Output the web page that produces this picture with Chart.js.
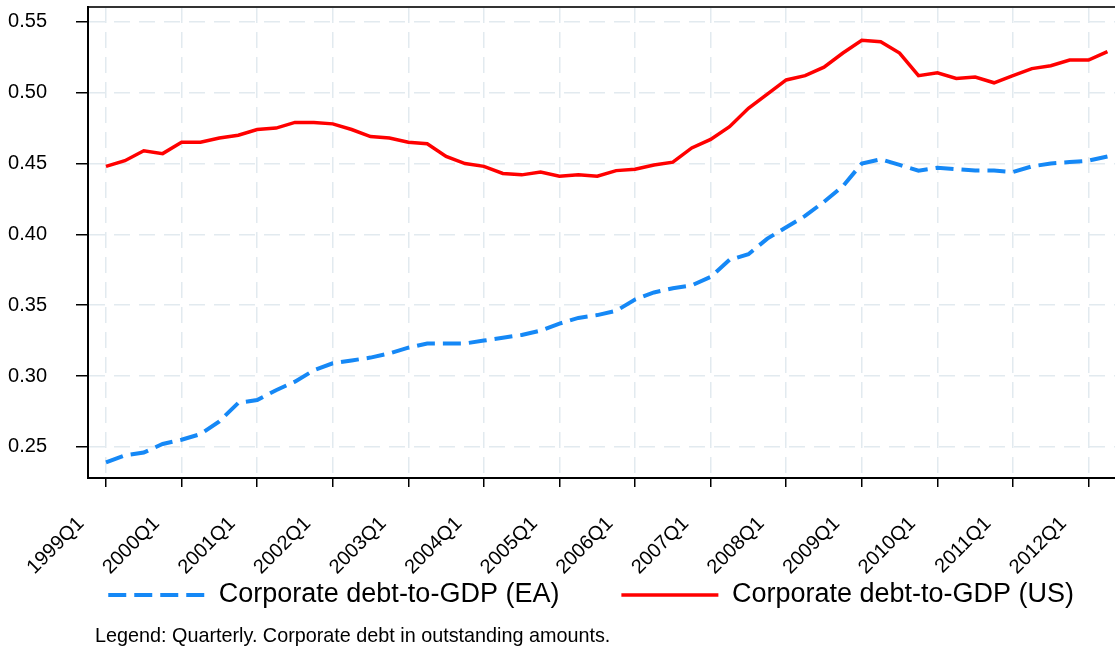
<!DOCTYPE html>
<html>
<head>
<meta charset="utf-8">
<script src="https://cdn.jsdelivr.net/npm/chart.js@4.4.1/dist/chart.umd.min.js"></script>
<style>
  body { margin: 0; background: #fff; }
  #wrap { position: relative; width: 1115px; height: 653px; overflow: hidden; }
  #note {
    position: absolute; left: 95px; top: 624px;
    font: 19.8px 'Liberation Sans', Arial, sans-serif; color: #000; white-space: nowrap;
  }
</style>
</head>
<body>
<div id="wrap">
  <canvas id="debtChart" width="1115" height="653"></canvas>
  <div id="note">Legend: Quarterly. Corporate debt in outstanding amounts.</div>
</div>
<script>
// Quarters 1999Q1 .. 2012Q2
const quarters = [
  '1999Q1', '1999Q2', '1999Q3', '1999Q4', '2000Q1', '2000Q2', '2000Q3', '2000Q4',
  '2001Q1', '2001Q2', '2001Q3', '2001Q4', '2002Q1', '2002Q2', '2002Q3', '2002Q4',
  '2003Q1', '2003Q2', '2003Q3', '2003Q4', '2004Q1', '2004Q2', '2004Q3', '2004Q4',
  '2005Q1', '2005Q2', '2005Q3', '2005Q4', '2006Q1', '2006Q2', '2006Q3', '2006Q4',
  '2007Q1', '2007Q2', '2007Q3', '2007Q4', '2008Q1', '2008Q2', '2008Q3', '2008Q4',
  '2009Q1', '2009Q2', '2009Q3', '2009Q4', '2010Q1', '2010Q2', '2010Q3', '2010Q4',
  '2011Q1', '2011Q2', '2011Q3', '2011Q4', '2012Q1', '2012Q2'
];

// Corporate debt-to-GDP, euro area
const eaDebt = [
  0.239, 0.244, 0.246, 0.252, 0.255, 0.259, 0.268, 0.281, 0.283, 0.290, 0.296, 0.304,
  0.309, 0.311, 0.313, 0.316, 0.320, 0.323, 0.323, 0.323, 0.325, 0.327, 0.329, 0.332,
  0.337, 0.341, 0.343, 0.346, 0.354, 0.359, 0.362, 0.364, 0.370, 0.382, 0.386, 0.397,
  0.405, 0.413, 0.423, 0.434, 0.450, 0.453, 0.449, 0.445, 0.447, 0.446, 0.445, 0.445,
  0.444, 0.448, 0.450, 0.451, 0.452, 0.455
];

// Corporate debt-to-GDP, United States
const usDebt = [
  0.448, 0.452, 0.459, 0.457, 0.465, 0.465, 0.468, 0.470, 0.474, 0.475, 0.479, 0.479,
  0.478, 0.474, 0.469, 0.468, 0.465, 0.464, 0.455, 0.450, 0.448, 0.443, 0.442, 0.444,
  0.441, 0.442, 0.441, 0.445, 0.446, 0.449, 0.451, 0.461, 0.467, 0.476, 0.489, 0.499,
  0.509, 0.512, 0.518, 0.528, 0.537, 0.536, 0.528, 0.512, 0.514, 0.510, 0.511, 0.507,
  0.512, 0.517, 0.519, 0.523, 0.523, 0.529
];

const xTickLabels = ['1999Q1', '2000Q1', '2001Q1', '2002Q1', '2003Q1', '2004Q1', '2005Q1',
  '2006Q1', '2007Q1', '2008Q1', '2009Q1', '2010Q1', '2011Q1', '2012Q1'];
const yTickValues = [0.25, 0.30, 0.35, 0.40, 0.45, 0.50, 0.55];

const toPoints = arr => arr.map((v, i) => ({ x: i, y: v }));

Chart.defaults.font.family = "'Liberation Sans', Arial, sans-serif";
Chart.defaults.color = '#000';

const gridColor = '#e2eaef';
const xMin = -0.952, xMax = 53.4;

// rotated x labels hang below the (short) x-axis box; don't clip them
const unclipXLabels = {
  id: 'unclipXLabels',
  afterLayout(chart) { chart.scales.x.bottom = chart.height; }
};

const ctx = document.getElementById('debtChart').getContext('2d');
new Chart(ctx, {
  type: 'line',
  data: {
    datasets: [{
      label: 'Corporate debt-to-GDP (EA)',
      data: toPoints(eaDebt),
      borderColor: '#1588f6',
      backgroundColor: '#1588f6',
      borderWidth: 4,
      borderDash: [18, 8],
      pointRadius: 0,
      tension: 0
    }, {
      label: 'Corporate debt-to-GDP (US)',
      data: toPoints(usDebt),
      borderColor: '#ff0000',
      backgroundColor: '#ff0000',
      borderWidth: 3.5,
      pointRadius: 0,
      tension: 0
    }]
  },
  plugins: [unclipXLabels],
  options: {
    responsive: false,
    animation: false,
    devicePixelRatio: 1,
    layout: { padding: { left: 0, top: 7, right: -21, bottom: 34.5 } },
    scales: {
      x: {
        type: 'linear',
        position: 'bottom',
        min: xMin,
        max: xMax,
        afterFit: s => { s.height = 41.5; s.paddingLeft = 0; s.paddingRight = 0; },
        afterBuildTicks: s => {
          s.ticks = xTickLabels.map(l => ({ value: quarters.indexOf(l) }));
        },
        ticks: {
          autoSkip: false,
          minRotation: 45,
          maxRotation: 45,
          padding: 25,
          labelOffset: -25,
          font: { size: 20 },
          callback: v => quarters[v]
        },
        grid: {
          color: gridColor,
          lineWidth: 1.5,
          tickColor: '#000',
          tickWidth: 1.5,
          tickLength: 9
        },
        border: { color: '#000', width: 2, dash: [16, 9] }
      },
      xTop: {
        type: 'linear',
        position: 'top',
        min: xMin,
        max: xMax,
        afterFit: s => { s.height = 0; s.paddingLeft = 0; s.paddingRight = 0; },
        ticks: { display: false },
        grid: { drawOnChartArea: false, drawTicks: false },
        border: { color: '#333', width: 2 }
      },
      y: {
        min: 0.228,
        max: 0.5605,
        afterFit: s => { s.width = 88; s.paddingTop = 0; s.paddingBottom = 0; },
        afterBuildTicks: s => {
          s.ticks = yTickValues.map(v => ({ value: v }));
        },
        ticks: {
          padding: 29,
          font: { size: 20 },
          callback: v => v.toFixed(2)
        },
        grid: {
          color: gridColor,
          lineWidth: 1.5,
          tickColor: '#000',
          tickWidth: 1.5,
          tickLength: 12
        },
        border: { color: '#000', width: 2, dash: [16, 9] }
      }
    },
    plugins: {
      legend: {
        position: 'bottom',
        align: 'end',
        maxHeight: 100,
        labels: {
          usePointStyle: true,
          pointStyle: 'line',
          pointStyleWidth: 97,
          padding: 62,
          font: { size: 27 },
          generateLabels: chart =>
            Chart.defaults.plugins.legend.labels.generateLabels(chart).map((item, i) => {
              const ds = chart.data.datasets[i];
              item.lineDash = ds.borderDash || [];
              item.lineWidth = ds.borderWidth;
              item.strokeStyle = ds.borderColor;
              return item;
            })
        }
      },
      tooltip: { enabled: false }
    }
  }
});
</script>
</body>
</html>
